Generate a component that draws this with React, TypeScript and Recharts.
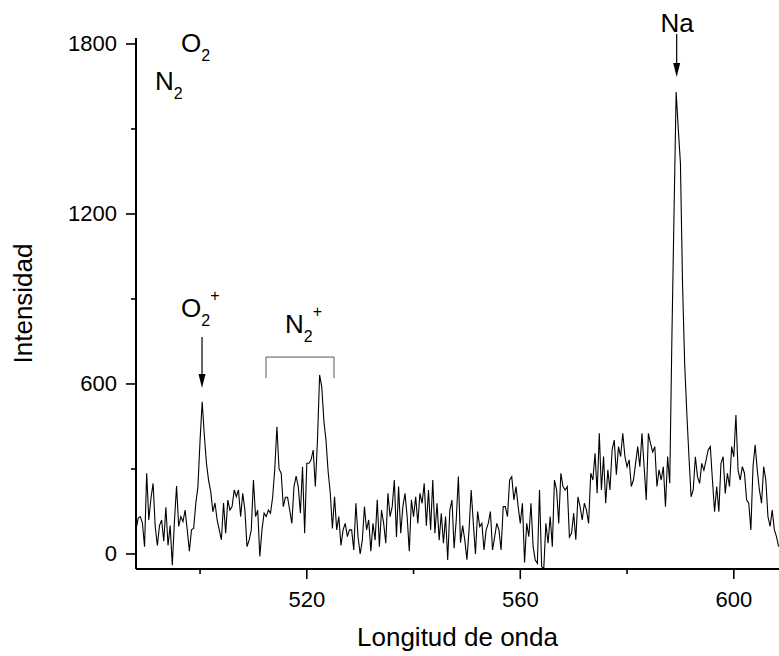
import { LineChart, Line, XAxis, YAxis, ReferenceLine, ReferenceDot, Label } from "recharts"

// spectrum sampled every 0.4 nm starting at 488 nm
const startNm = 488
const stepNm = 0.4
const intensity = [
    85, 126, 132, 110, 26, 285, 120, 196, 249, 97,
    30, 100, 120, 45, 165, 30, 100, -40, 115, 240,
    97, 132, 114, 155, 85, 10, 85, 90, 179, 237,
    400, 537, 420, 320, 260, 220, 149, 180, 120, 85,
    50, 180, 73, 190, 155, 167, 226, 202, 226, 132,
    214, 155, 26, 49, 85, 261, 132, 155, -9, 85,
    144, 132, 155, 144, 200, 300, 449, 300, 285, 167,
    200, 200, 155, 108, 238, 275, 238, 144, 308, 73,
    320, 320, 332, 367, 238, 402, 632, 590, 470, 400,
    290, 215, 90, 202, 85, 132, 30, 85, 108, 61,
    85, 85, 14, 179, 61, 0, 49, 167, 85, 120,
    10, 108, 49, 191, 26, 155, 108, 38, 214, 132,
    167, 261, 60, 238, 73, 167, 214, 132, 10, 191,
    132, 202, 108, 214, 179, 249, 100, 226, 85, 261,
    73, 179, 49, 144, 38, 132, -21, 155, 190, 20,
    120, 273, 40, 100, 49, -20, 85, 226, 108, 0,
    150, 97, 108, 14, 85, 108, 150, 14, 61, 108,
    85, 14, 167, 167, 132, 261, 273, 191, 238, 167,
    108, 179, -30, 108, 61, 179, 26, -21, -33, 226,
    -45, -50, 108, 38, 132, 26, 261, 226, 108, 285,
    238, 226, 238, 60, 73, 144, 50, 202, 167, 120,
    179, 155, 108, 285, 261, 355, 214, 426, 226, 344,
    179, 297, 226, 367, 402, 280, 379, 344, 426, 344,
    308, 332, 238, 261, 320, 379, 308, 426, 308, 191,
    426, 390, 360, 379, 238, 297, 261, 308, 167, 344,
    250, 760, 1200, 1630, 1500, 1380, 950, 670, 497, 343,
    202, 226, 343, 273, 249, 320, 296, 330, 367, 379,
    261, 149, 238, 149, 320, 343, 214, 285, 238, 379,
    343, 490, 296, 261, 308, 285, 191, 179, 85, 308,
    385, 296, 226, 179, 308, 261, 132, 97, 155, 85,
    61, 26,
]
const wavelength = intensity.map((_, i) => +(startNm + i * stepNm).toFixed(1))

const xDomain = [488, 608.47]
const yDomain = [-53, 1821]
const xTicks = [500, 520, 540, 560, 580, 600]
const xLabeled = [520, 560, 600]
const yTicks = [0, 300, 600, 900, 1200, 1500, 1800]
const yLabeled = [0, 600, 1200, 1800]

// peak annotations (data coordinates)
const labels = [
    { x: 496.43, y: 1772, main: "O", sub: "2", sup: "", anchor: "start" },
    { x: 491.56, y: 1638, main: "N", sub: "2", sup: "", anchor: "start" },
    { x: 496.43, y: 836, main: "O", sub: "2", sup: "+", anchor: "start" },
    { x: 515.92, y: 780, main: "N", sub: "2", sup: "+", anchor: "start" },
    { x: 589.4, y: 1842, main: "Na", sub: "", sup: "", anchor: "middle" },
]
const arrows = [
    { x: 500.37, from: 766, to: 586 },
    { x: 589.3, from: 1835, to: 1683 },
]
const bracket = { x1: 512.36, x2: 525.1, top: 695, bottom: 621 }

const data = wavelength.map((w, i) => ({ w, v: intensity[i] }))

const font = "'Liberation Sans', Arial, Helvetica, sans-serif"

const XTick = (props: any) => {
    const { x, y, payload } = props
    const major = xLabeled.includes(payload.value)
    return (
        <g>
            <line x1={x} x2={x} y1={y} y2={y + (major ? 10 : 5)} stroke="#000" strokeWidth={1.6} />
            {major && (
                <text x={x} y={y + 38} textAnchor="middle" fontSize={22} fontFamily={font} fill="#000">
                    {payload.value}
                </text>
            )}
        </g>
    )
}

const YTick = (props: any) => {
    const { x, y, payload } = props
    const major = yLabeled.includes(payload.value)
    return (
        <g>
            <line x1={x} x2={x - (major ? 10 : 5)} y1={y} y2={y} stroke="#000" strokeWidth={1.6} />
            {major && (
                <text x={x - 19} y={y} textAnchor="end" dominantBaseline="central" fontSize={22} fontFamily={font} fill="#000">
                    {payload.value}
                </text>
            )}
        </g>
    )
}

const Arrow = (props: any) => {
    const { x1, y1, x2, y2 } = props
    return (
        <g>
            <line x1={x1} y1={y1} x2={x2} y2={y2 - 12} stroke="#000" strokeWidth={1.2} />
            <polygon points={`${x2},${y2} ${x2 - 3.5},${y2 - 14} ${x2 + 3.5},${y2 - 14}`} fill="#000" />
        </g>
    )
}

const makeLabel = (l: any) => (props: any) => {
    const { cx, cy } = props
    return (
        <text x={cx} y={cy} fontSize={26} fontFamily={font} fill="#000" textAnchor={l.anchor}>
            {l.main}
            {l.sub && <tspan fontSize={16} dy={9}>{l.sub}</tspan>}
            {l.sup && <tspan fontSize={16} dy={-25}>{l.sup}</tspan>}
        </text>
    )
}

export default function App() {
    return (
        <div style={{ position: "absolute", left: 0, top: 0, background: "#fff" }}>
            <LineChart width={779} height={656} data={data} margin={{ top: 38, right: 0, left: 0, bottom: 0 }}>
                <XAxis
                    type="number"
                    dataKey="w"
                    domain={xDomain}
                    allowDataOverflow
                    ticks={xTicks}
                    interval={0}
                    tick={XTick}
                    tickLine={false}
                    tickSize={0}
                    tickMargin={0}
                    axisLine={{ stroke: "#000", strokeWidth: 2 }}
                    height={87}
                >
                    <Label
                        content={(p: any) => {
                            const vb = p.viewBox || { x: 136, y: 569, width: 643, height: 87 }
                            return (
                                <text x={vb.x + vb.width / 2} y={vb.y + 77} textAnchor="middle" fontSize={26} fontFamily={font} fill="#000">
                                    Longitud de onda
                                </text>
                            )
                        }}
                    />
                </XAxis>
                <YAxis
                    type="number"
                    domain={yDomain}
                    allowDataOverflow
                    ticks={yTicks}
                    interval={0}
                    tick={YTick}
                    tickLine={false}
                    tickSize={0}
                    tickMargin={0}
                    axisLine={{ stroke: "#000", strokeWidth: 2 }}
                    width={136}
                >
                    <Label
                        content={(p: any) => {
                            const vb = p.viewBox || { x: 0, y: 38, width: 136, height: 531 }
                            const cx = vb.x + 32
                            const cy = vb.y + vb.height / 2
                            return (
                                <text x={cx} y={cy} transform={`rotate(-90, ${cx}, ${cy})`} textAnchor="middle" fontSize={26} fontFamily={font} fill="#000">
                                    Intensidad
                                </text>
                            )
                        }}
                    />
                </YAxis>
                <Line type="linear" dataKey="v" stroke="#000" strokeWidth={1.1} dot={false} isAnimationActive={false} />
                {arrows.map((a, i) => (
                    <ReferenceLine
                        key={"a" + i}
                        segment={[{ x: a.x, y: a.from }, { x: a.x, y: a.to }]}
                        ifOverflow="visible"
                        shape={Arrow}
                    />
                ))}
                <ReferenceLine segment={[{ x: bracket.x1, y: bracket.top }, { x: bracket.x2, y: bracket.top }]} ifOverflow="visible" stroke="#555" strokeWidth={1} />
                <ReferenceLine segment={[{ x: bracket.x1, y: bracket.top }, { x: bracket.x1, y: bracket.bottom }]} ifOverflow="visible" stroke="#555" strokeWidth={1} />
                <ReferenceLine segment={[{ x: bracket.x2, y: bracket.top }, { x: bracket.x2, y: bracket.bottom }]} ifOverflow="visible" stroke="#555" strokeWidth={1} />
                {labels.map((l, i) => (
                    <ReferenceDot key={"l" + i} x={l.x} y={l.y} ifOverflow="visible" shape={makeLabel(l)} />
                ))}
            </LineChart>
        </div>
    )
}
